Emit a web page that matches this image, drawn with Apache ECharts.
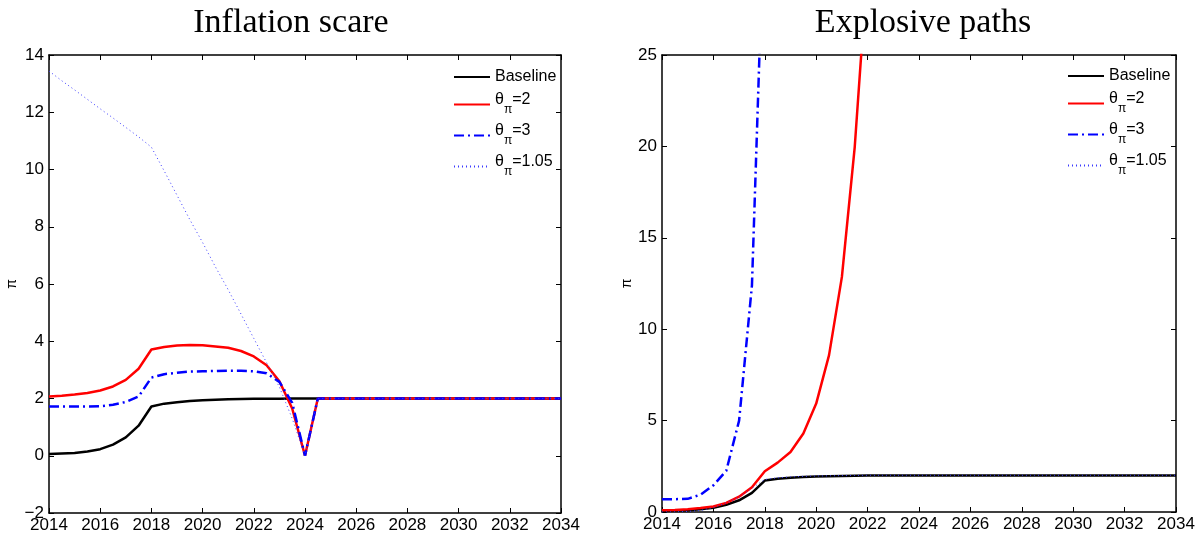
<!DOCTYPE html>
<html>
<head>
<meta charset="utf-8">
<script src="https://cdn.jsdelivr.net/npm/echarts@6/dist/echarts.min.js"></script>
<style>
html,body{margin:0;padding:0;background:#fff;}
#chart{width:1199px;height:540px;}
</style>
</head>
<body>
<div id="chart"></div>
<script>
// Time axis (half-year steps)
const years = [2014,2014.5,2015,2015.5,2016,2016.5,2017,2017.5,2018,2018.5,2019,2019.5,2020,2020.5,2021,2021.5,2022,2022.5,2023,2023.5,2024,2024.5,2025,2025.5,2026,2026.5,2027,2027.5,2028,2028.5,2029,2029.5,2030,2030.5,2031,2031.5,2032,2032.5,2033,2033.5,2034];

// Left panel: Inflation scare
const leftBaseline = [0.06,0.08,0.10,0.15,0.23,0.39,0.64,1.05,1.72,1.82,1.87,1.91,1.94,1.96,1.97,1.98,1.99,1.99,1.99,2,2,2,2,2,2,2,2,2,2,2,2,2,2,2,2,2,2,2,2,2,2];
const leftTheta2 = [2.07,2.10,2.14,2.19,2.28,2.42,2.65,3.04,3.71,3.80,3.85,3.87,3.86,3.82,3.77,3.66,3.47,3.16,2.60,1.65,0.0,2,2,2,2,2,2,2,2,2,2,2,2,2,2,2,2,2,2,2,2];
const leftTheta3 = [1.72,1.72,1.72,1.72,1.73,1.78,1.88,2.07,2.73,2.85,2.90,2.94,2.95,2.96,2.97,2.97,2.95,2.88,2.58,1.85,0.0,2,2,2,2,2,2,2,2,2,2,2,2,2,2,2,2,2,2,2,2];
const leftTheta105 = [13.44,13.10,12.78,12.45,12.12,11.80,11.47,11.14,10.78,9.95,9.10,8.25,7.45,6.60,5.80,4.95,4.10,3.25,2.40,1.30,0.0,2,2,2,2,2,2,2,2,2,2,2,2,2,2,2,2,2,2,2,2];

// Right panel: Explosive paths
const rightBaseline = [0.06,0.08,0.10,0.15,0.23,0.39,0.64,1.05,1.72,1.82,1.87,1.91,1.94,1.96,1.97,1.98,1.99,1.99,1.99,2,2,2,2,2,2,2,2,2,2,2,2,2,2,2,2,2,2,2,2,2,2];
const rightTheta2 = [0.09,0.11,0.15,0.22,0.30,0.50,0.84,1.35,2.23,2.70,3.28,4.29,5.93,8.58,12.86,19.98,30.0];
const rightTheta3 = [0.70,0.70,0.72,0.95,1.46,2.25,5.0,12.4,34.0];
const rightTheta105 = [0.0,0.01,0.03,0.08,0.25,0.50,0.82,1.30,1.78,1.87,1.92,1.95,1.97,1.98,1.99,2.0,2.01,2.01,2.01,2.01,2.01,2.01,2.01,2.01,2.01,2.01,2.01,2.01,2.01,2.01,2.01,2.01,2.01,2.01,2.01,2.01,2.01,2.01,2.01,2.01,2.01];

const xTicks = {min: 2014, max: 2034, interval: 2};
const leftY = {min: -2, max: 14, interval: 2};
const rightY = {min: 0, max: 25, interval: 5};

function pairs(vals){ return vals.map((v,i)=>[years[i], v]); }

const sansFont = 'Liberation Sans';
const legendNames = ['Baseline','theta2','theta3','theta105'];
const legendLabels = {Baseline:'{b|Baseline}', theta2:'{t|θ}{s|π}{t|=2}', theta3:'{t|θ}{s|π}{t|=3}', theta105:'{t|θ}{s|π}{t|=1.05}'};

const styles = {
  Baseline: {color:'#000000', width:2.5, type:'solid'},
  theta2: {color:'#ff0000', width:2.5, type:'solid'},
  theta3: {color:'#0000ff', width:2.5, type:[10,4,2,4]},
  theta105: {color:'#3b3bff', width:1, type:[1,3]}
};

function mkSeries(name, vals, xi, yi, z){
  const st = styles[name];
  return {
    name: name, type:'line', xAxisIndex: xi, yAxisIndex: yi,
    data: pairs(vals), symbol:'none', showSymbol:false, smooth:false, z: z,
    lineStyle: {color: st.color, width: st.width, type: st.type},
    itemStyle: {color: st.color},
    animation:false, clip:true
  };
}

function xAx(grid, pos){
  return {
    type:'value', gridIndex: grid, position: pos, min: xTicks.min, max: xTicks.max, interval: xTicks.interval,
    axisLine:{show:true, onZero:false, lineStyle:{color:'#000', width:1.5}},
    axisTick:{show:true, inside:true, length:5, lineStyle:{color:'#000', width:1}},
    axisLabel:{show: pos==='bottom', color:'#000', fontFamily:sansFont, fontSize:17, margin:4, formatter: v=>String(v)},
    splitLine:{show:false}
  };
}
function yAx(grid, pos, r, gap){
  return {
    type:'value', gridIndex: grid, position: pos, min: r.min, max: r.max, interval: r.interval,
    name: pos==='left' ? 'π' : '', nameLocation:'middle', nameRotate:90, nameGap: gap,
    nameTextStyle:{color:'#000', fontFamily:sansFont, fontSize:14},
    axisLine:{show:true, onZero:false, lineStyle:{color:'#000', width:1.5}},
    axisTick:{show:true, inside:true, length:5, lineStyle:{color:'#000', width:1}},
    axisLabel:{show: pos==='left', color:'#000', fontFamily:sansFont, fontSize:17, margin:5,
      formatter: v => v < 0 ? '\u2212' + Math.abs(v) : String(v)},
    splitLine:{show:false}
  };
}

function mkLegend(left, top){
  return {
    data: legendNames, orient:'vertical', left: left, top: top, padding:0, itemGap:7,
    itemWidth:36, itemHeight:14, align:'left', selectedMode:false,
    itemStyle:{color:'transparent', borderColor:'transparent', borderWidth:0, opacity:0},
    formatter: n => legendLabels[n],
    textStyle:{color:'#000', fontFamily:sansFont, fontSize:16,
      rich:{
        b:{fontFamily:sansFont, fontSize:16, color:'#000'},
        t:{fontFamily:sansFont, fontSize:16, color:'#000', padding:[0,0,9,0]},
        s:{fontFamily:sansFont, fontSize:12, color:'#000', padding:[11,0,0,0]}
      }}
  };
}

const chart = echarts.init(document.getElementById('chart'), null, {renderer:'canvas'});
chart.setOption({
  animation:false,
  backgroundColor:'#fff',
  title:[
    {text:'Inflation scare', left:286, top:1, textAlign:'center', textStyle:{fontFamily:'Liberation Serif', fontSize:34, fontWeight:'normal', color:'#000'}},
    {text:'Explosive paths', left:918, top:1, textAlign:'center', textStyle:{fontFamily:'Liberation Serif', fontSize:34, fontWeight:'normal', color:'#000'}}
  ],
  legend:[mkLegend(453, 69), mkLegend(1067, 68)],
  grid:[
    {left:49, top:55, width:512, height:458},
    {left:662, top:55, width:514, height:457}
  ],
  xAxis:[xAx(0,'bottom'), xAx(0,'top'), xAx(1,'bottom'), xAx(1,'top')],
  yAxis:[yAx(0,'left',leftY,30), yAx(0,'right',leftY,30), yAx(1,'left',rightY,28), yAx(1,'right',rightY,28)],
  series:[
    mkSeries('Baseline', leftBaseline, 0, 0, 2),
    mkSeries('theta2', leftTheta2, 0, 0, 3),
    mkSeries('theta3', leftTheta3, 0, 0, 4),
    mkSeries('theta105', leftTheta105, 0, 0, 5),
    mkSeries('Baseline', rightBaseline, 2, 2, 2),
    mkSeries('theta2', rightTheta2, 2, 2, 3),
    mkSeries('theta3', rightTheta3, 2, 2, 4),
    mkSeries('theta105', rightTheta105, 2, 2, 5)
  ]
});
</script>
</body>
</html>
